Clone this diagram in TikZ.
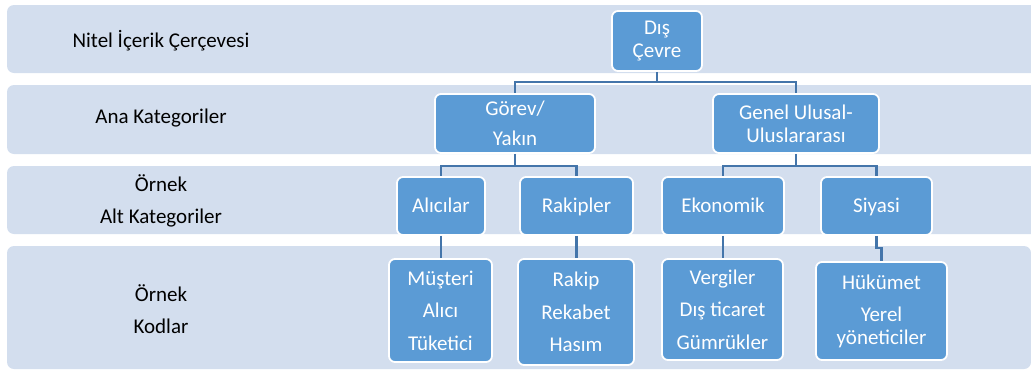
\documentclass[tikz,border=0pt]{standalone}
\usepackage{fontspec}
\setmainfont{Carlito}
\definecolor{bandc}{RGB}{211,222,238}
\definecolor{boxc}{RGB}{91,155,213}
\definecolor{linec}{RGB}{68,117,170}
\tikzset{
  band/.style={fill=bandc, draw=none, rounded corners=7pt},
  lbl/.style={align=center, text=black, font=\fontsize{21}{32}\selectfont},
  cbox/.style={draw=white, line width=1.8pt, fill=boxc, rounded corners=6pt, text=white, align=center, inner sep=0pt},
  onebox/.style={cbox, minimum height=58pt, font=\fontsize{21}{25}\selectfont, text height=13pt, text depth=0pt},
  conn/.style={draw=linec, line width=2.6pt}
}
\begin{document}
\begin{tikzpicture}[x=1pt,y=-1pt]
\useasboundingbox (0,0) rectangle (1031,370);
% bands
\path[band] (7,5) rectangle (1045,73);
\path[band] (7,85) rectangle (1045,154);
\path[band] (7,166) rectangle (1045,234);
\path[band] (7,246) rectangle (1031,369);
% left labels
\node[lbl] (l1) at (161,41) {Nitel İçerik Çerçevesi};
\node[lbl] (l2) at (161,118) {Ana Kategoriler};
\node[lbl] (l3) at (161,201) {Örnek\\Alt Kategoriler};
\node[lbl] (l4) at (161,309) {Örnek\\Kodlar};
% boxes
\node[cbox, minimum width=90pt, minimum height=60pt, font=\fontsize{21}{23}\selectfont] (dc) at (657,41) {Dış\\Çevre};
\node[cbox, minimum width=160pt, minimum height=59pt, font=\fontsize{21}{30}\selectfont] (gy) at (515,123.5) {Görev/\\Yakın};
\node[cbox, minimum width=166pt, minimum height=59pt, font=\fontsize{21}{23}\selectfont] (gu) at (796,123.5) {Genel Ulusal-\\Uluslararası};
\node[onebox, minimum width=88pt] (al) at (441,206) {Alıcılar};
\node[onebox, minimum width=113pt] (rk) at (576.5,206) {Rakipler};
\node[onebox, minimum width=122pt] (ek) at (723,206) {Ekonomik};
\node[onebox, minimum width=111pt] (sy) at (876.5,206) {Siyasi};
\node[cbox, minimum width=103pt, minimum height=103pt, font=\fontsize{21}{32.5}\selectfont] (mu) at (440.5,310.5) {Müşteri\\Alıcı\\Tüketici};
\node[cbox, minimum width=116pt, minimum height=106pt, font=\fontsize{21}{32.5}\selectfont] (ra) at (576,312) {Rakip\\Rekabet\\Hasım};
\node[cbox, minimum width=121pt, minimum height=101pt, font=\fontsize{21}{32.5}\selectfont] (ve) at (722.5,309.5) {Vergiler\\Dış ticaret\\Gümrükler};
\node[cbox, minimum width=131pt, minimum height=98pt, font=\fontsize{21}{32}\selectfont] (hu) at (881.5,311) {Hükümet\\Yerel\\[-9pt]yöneticiler};
% connectors
\draw[conn] (dc.south) -- ++(0,10) coordinate (j1) -| (gy.north);
\draw[conn] (j1) -| (gu.north);
\draw[conn] (gy.south) -- ++(0,12) coordinate (j2) -| (al.north);
\draw[conn] (j2) -| (rk.north);
\draw[conn] (gu.south) -- ++(0,12) coordinate (j3) -| (ek.north);
\draw[conn] (j3) -| (sy.north);
\draw[conn] (al.south) -- (al.south |- mu.north);
\draw[conn] (rk.south) -- (rk.south |- ra.north);
\draw[conn] (ek.south) -- (ek.south |- ve.north);
\draw[conn] (sy.south) -- ++(0,12) -| (hu.north);
\end{tikzpicture}
\end{document}
